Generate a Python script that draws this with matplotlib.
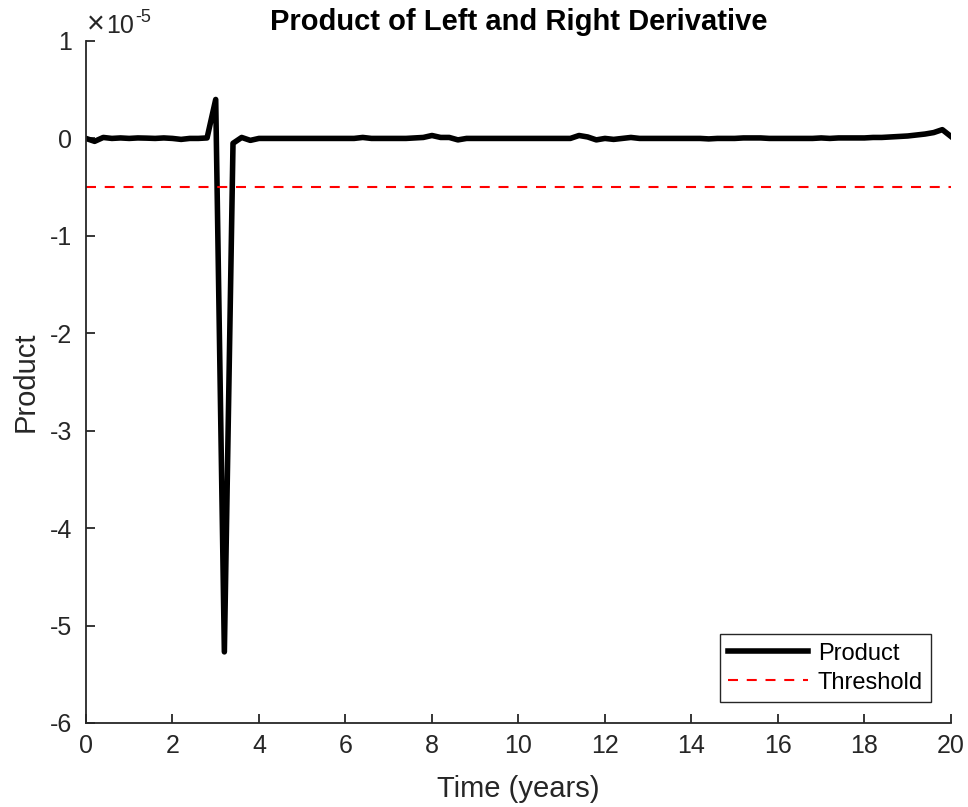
import numpy as np
import matplotlib.pyplot as plt
from matplotlib.ticker import FuncFormatter

plt.rcParams["font.family"] = ["Liberation Sans", "DejaVu Sans"]
plt.rcParams["axes.unicode_minus"] = False

# sample times (years) and product of left/right derivative (units of 1e-5)
time_years = np.round(np.arange(0, 20.0001, 0.2), 1)
product_e5 = [
    0.0, -0.03, 0.01, 0.0, 0.005, 0.0, 0.005, 0.003, 0.0, 0.005,
    0.0, -0.01, 0.0, 0.0, 0.005, 0.40, -5.27, -0.05, 0.01, -0.02,
    0.0, 0.0, 0.0, 0.0, 0.0, 0.0, 0.0, 0.0, 0.0, 0.0,
    0.0, 0.0, 0.01, 0.0, 0.0, 0.0, 0.0, 0.0, 0.005, 0.01,
    0.03, 0.01, 0.01, -0.015, 0.0, 0.0, 0.0, 0.0, 0.0, 0.0,
    0.0, 0.0, 0.0, 0.0, 0.0, 0.0, 0.0, 0.03, 0.015, -0.015,
    0.0, -0.01, 0.0, 0.01, 0.0, 0.0, 0.0, 0.0, 0.0, 0.0,
    0.0, 0.0, -0.005, 0.0, 0.0, 0.0, 0.005, 0.005, 0.005, 0.0,
    0.0, 0.0, 0.0, 0.0, 0.0, 0.005, 0.0, 0.005, 0.005, 0.005,
    0.005, 0.01, 0.01, 0.015, 0.02, 0.025, 0.035, 0.045, 0.06, 0.09,
    0.02,
]
threshold_e5 = -0.5
y_exponent = -5

scale = 10.0 ** y_exponent
product = np.array(product_e5) * scale
threshold = threshold_e5 * scale

ink = "#262626"

fig = plt.figure(figsize=(9.68, 8.07), dpi=100)
ax = fig.add_axes([0.0888, 0.1041, 0.8936, 0.8451])

ax.plot(time_years, product, color="black", lw=4, label="Product")
ax.axhline(threshold, color="red", lw=1.5, linestyle=(0, (4.8, 4.2)),
           label="Threshold")

ax.set_xlim(0, 20)
ax.set_ylim(-6 * scale, 1 * scale)
ax.set_xticks(np.arange(0, 21, 2))
ax.set_yticks(np.arange(-6, 2) * scale)
ax.yaxis.set_major_formatter(FuncFormatter(lambda v, _: f"{v / scale:g}"))

# exponent label above the y axis, drawn with a plain hyphen
ax.text(0.001, 1.0117, "\u00d7", transform=ax.transAxes, fontsize=22,
        color=ink, ha="left", va="baseline")
ax.text(0.0235, 1.0117, "10", transform=ax.transAxes, fontsize=18,
        color=ink, ha="left", va="baseline")
ax.text(0.0575, 1.028, f"{y_exponent}", transform=ax.transAxes, fontsize=13,
        color=ink, ha="left", va="baseline")

for side in ("top", "right"):
    ax.spines[side].set_visible(False)
for side in ("left", "bottom"):
    ax.spines[side].set_linewidth(1.3)
    ax.spines[side].set_color(ink)
ax.tick_params(direction="in", length=6.5, width=1.3, labelsize=18,
               colors=ink)
ax.tick_params(axis="y", pad=10)
ax.tick_params(axis="x", pad=8)

ax.set_title("Product of Left and Right Derivative", fontsize=21,
             fontweight="bold", pad=8)
ax.set_xlabel("Time (years)", fontsize=21, color=ink, labelpad=12)
ax.set_ylabel("Product", fontsize=21, color=ink, labelpad=7)

leg = ax.legend(loc="lower right", bbox_to_anchor=(0.977, 0.031),
                fontsize=17, handlelength=3.4, fancybox=False,
                framealpha=1, borderpad=0.35, labelspacing=0.3,
                handletextpad=0.4, borderaxespad=0)
leg.get_frame().set_edgecolor(ink)
leg.get_frame().set_linewidth(1.0)

fig.savefig("out.png", dpi=100)
